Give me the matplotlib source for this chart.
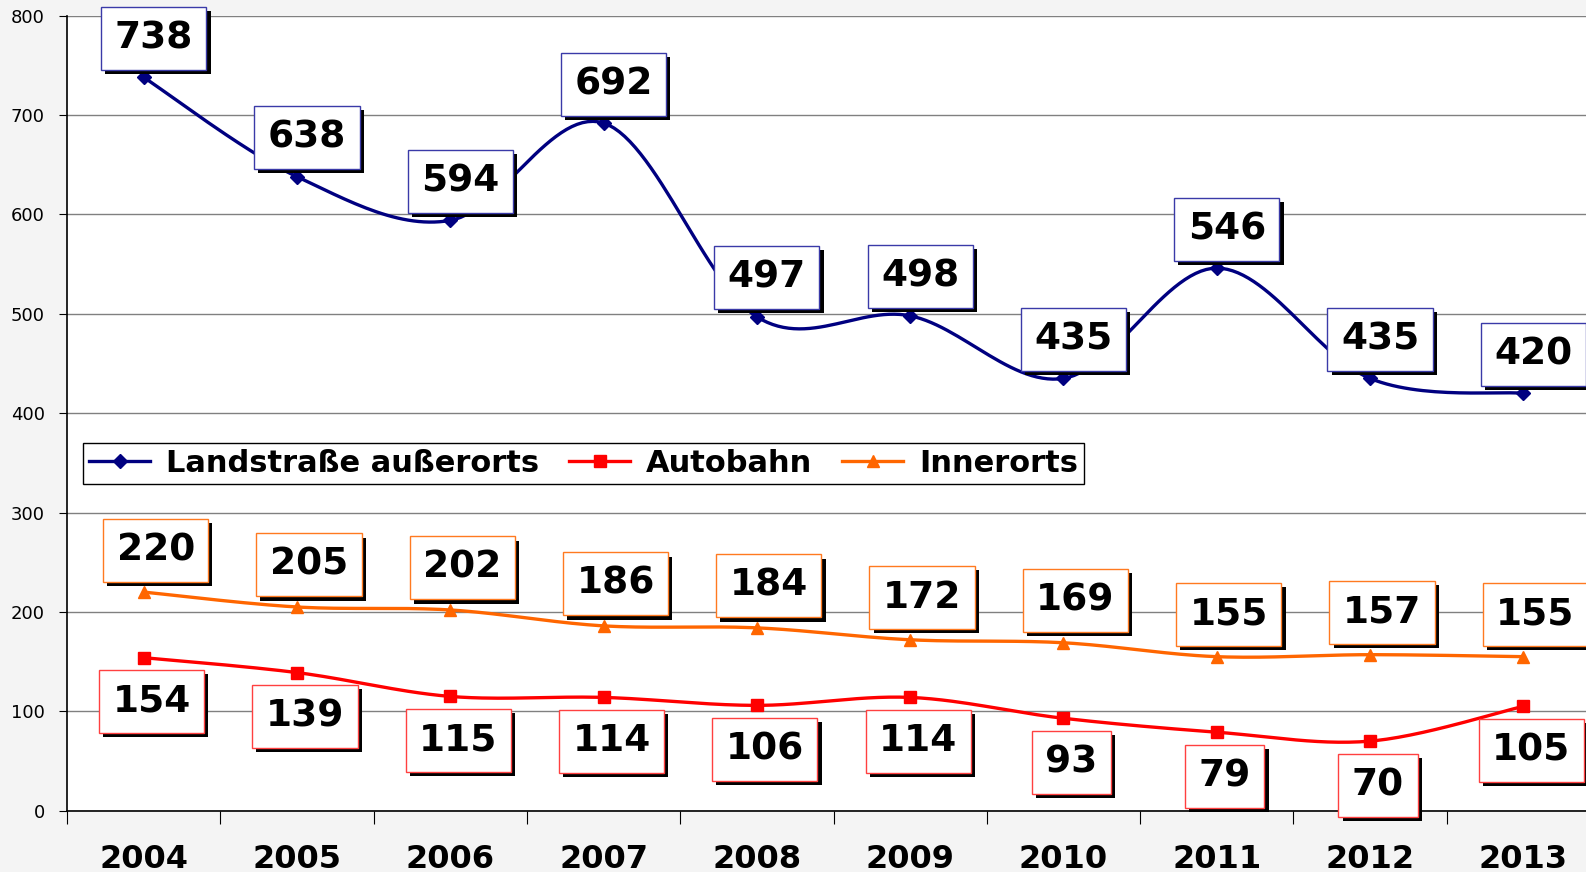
import numpy as np
import matplotlib
matplotlib.use("Agg")
import matplotlib.pyplot as plt
import matplotlib.patheffects as pe

years = ["2004", "2005", "2006", "2007", "2008", "2009", "2010", "2011", "2012", "2013"]
landstrasse = [738, 638, 594, 692, 497, 498, 435, 546, 435, 420]
autobahn = [154, 139, 115, 114, 106, 114, 93, 79, 70, 105]
innerorts = [220, 205, 202, 186, 184, 172, 169, 155, 157, 155]

W, H = 1586, 872
fig = plt.figure(figsize=(W / 100, H / 100), dpi=100, facecolor="#f4f4f4")
left, right = 67 / W, 1600 / W
bottom, top = 1 - 810.7 / H, 1 - 15.7 / H
ax = fig.add_axes([left, bottom, right - left, top - bottom])
ax.set_facecolor("white")

ax.set_xlim(-0.5, 9.5)
ax.set_ylim(0, 800)

# pixel scale used for smoothing (Excel style bezier)
sx = 153.3
sy = 795 / 800


def smooth(xs, ys, n=30):
    px = np.asarray(xs, float) * sx
    py = np.asarray(ys, float) * sy
    P = np.column_stack([px, py])
    out = [P[0]]
    m = len(P)
    for i in range(m - 1):
        p0 = P[i - 1] if i > 0 else P[i]
        p1, p2 = P[i], P[i + 1]
        p3 = P[i + 2] if i + 2 < m else P[i + 1]
        c1 = p1 + (p2 - p0) / 6
        c2 = p2 - (p3 - p1) / 6
        t = np.linspace(0, 1, n)[1:, None]
        seg = ((1 - t) ** 3) * p1 + 3 * ((1 - t) ** 2) * t * c1 + 3 * (1 - t) * t ** 2 * c2 + t ** 3 * p2
        out.extend(seg)
    out = np.array(out)
    return out[:, 0] / sx, out[:, 1] / sy


x = np.arange(len(years))
series = [
    ("Landstraße außerorts", landstrasse, "#000080", "D", 7, (10, 39), "#3a3aa8"),
    ("Autobahn", autobahn, "#ff0000", "s", 8, (8, -44), "#ff4040"),
    ("Innerorts", innerorts, "#ff6600", "^", 9, (12, 42), "#ff7a20"),
]

shadow = [pe.SimplePatchShadow(offset=(3, -3), shadow_rgbFace="black", alpha=1), pe.Normal()]

for name, vals, col, mk, ms, off, ec in series:
    xs, ys = smooth(x, vals)
    ax.plot(xs, ys, color=col, lw=2.4, zorder=3)
    ax.plot(x, vals, ls="none", marker=mk, ms=ms, color=col, zorder=3)
    ax.plot([], [], color=col, lw=2.4, marker=mk, ms=ms, label=name)
    for i, v in enumerate(vals):
        t = ax.annotate(str(v), xy=(i, v), xytext=off,
                        textcoords="offset pixels", ha="center", va="center",
                        fontsize=27, fontweight="bold", color="black",
                        bbox=dict(boxstyle="square,pad=0.36", fc="white", ec=ec, lw=1),
                        zorder=6)
        t.get_bbox_patch().set_path_effects(shadow)

# grid
ax.set_yticks(np.arange(0, 801, 100))
ax.yaxis.grid(True, color="#808080", lw=1)
ax.set_axisbelow(True)
ax.tick_params(axis="y", labelsize=13, length=6, pad=10, direction="out")

for s in ["top", "right"]:
    ax.spines[s].set_visible(False)
ax.spines["left"].set_linewidth(1.2)
ax.spines["bottom"].set_linewidth(1.2)

ax.set_xticks(np.arange(-0.5, 10, 1))
ax.set_xticklabels([])
ax.tick_params(axis="x", which="major", length=9, direction="out")
ax.set_xticks(x, minor=True)
ax.set_xticklabels(years, minor=True, fontsize=23, fontweight="bold")
ax.tick_params(axis="x", which="minor", length=0, pad=24)

leg = fig.legend(loc="upper left", bbox_to_anchor=(83 / W, 1 - 443 / H), ncol=3,
                 frameon=True, fancybox=False, edgecolor="black", framealpha=1,
                 prop=dict(size=22, weight="bold"), handlelength=2.0,
                 borderaxespad=0, columnspacing=1.0, handletextpad=0.5,
                 borderpad=0.2)
leg.get_frame().set_linewidth(1)
leg.set_zorder(10)

fig.savefig("out.png", dpi=100, facecolor=fig.get_facecolor())
